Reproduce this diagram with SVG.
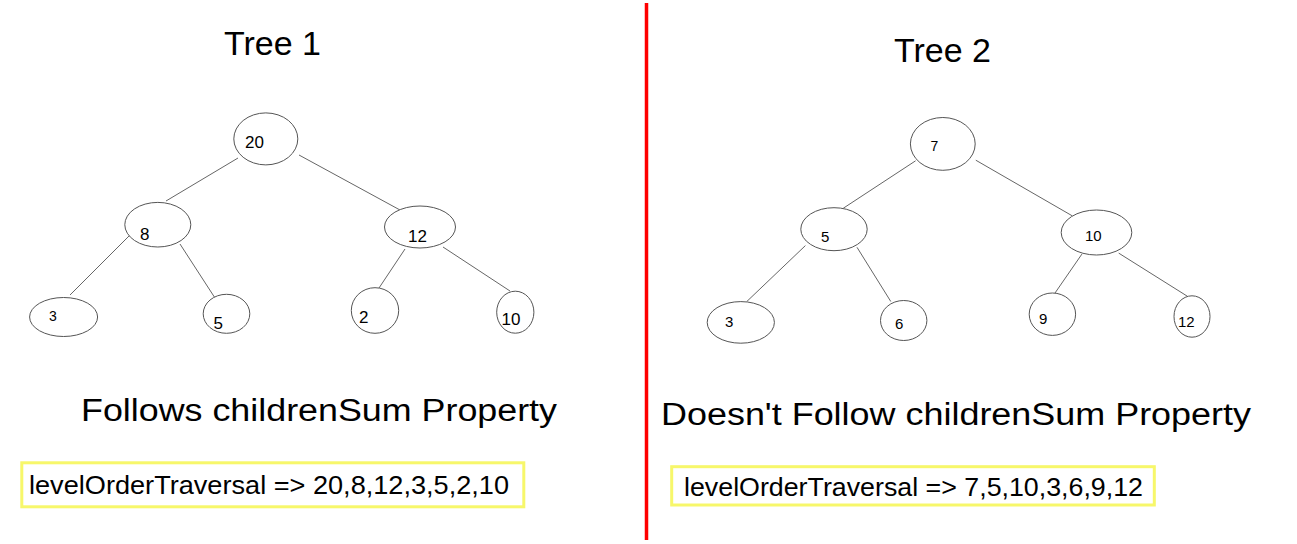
<svg xmlns="http://www.w3.org/2000/svg" width="1297" height="544" viewBox="0 0 1297 544">
<style>
.n{fill:#fff;stroke:#555;stroke-width:1}
.t{font-family:"Liberation Sans",Arial,sans-serif;fill:#000}
.e line{stroke:#666;stroke-width:1}
.box{fill:#fff;stroke:#f7f76a;stroke-width:3}
</style>
<rect width="1297" height="544" fill="#fff"/>
<line x1="646.5" y1="3" x2="646.5" y2="540" stroke="#ff0000" stroke-width="3.5"/>
<text class="t" x="224" y="55" font-size="34">Tree 1</text>
<text class="t" x="894" y="62" font-size="34">Tree 2</text>
<g class="e" id="edges1">
<line x1="238" y1="158" x2="166" y2="201"/>
<line x1="299" y1="155" x2="400" y2="210"/>
<line x1="130" y1="235" x2="70" y2="295"/>
<line x1="180" y1="244" x2="215" y2="298"/>
<line x1="405" y1="249" x2="379" y2="288"/>
<line x1="443" y1="247" x2="510" y2="291"/>
</g>
<g class="e" id="edges2">
<line x1="915.6" y1="160.8" x2="843.2" y2="208.3"/>
<line x1="975.8" y1="160.2" x2="1072.2" y2="215.8"/>
<line x1="805.4" y1="245.6" x2="746.8" y2="301.5"/>
<line x1="857" y1="247.3" x2="890.8" y2="301.5"/>
<line x1="1081.9" y1="254.1" x2="1055" y2="293"/>
<line x1="1118.7" y1="253.1" x2="1187.6" y2="296.4"/>
</g>
<g id="t1n20"><ellipse class="n" cx="265.8" cy="138.9" rx="32" ry="26"/><text class="t" x="245" y="148" font-size="17">20</text></g>
<g id="t1n8"><ellipse class="n" cx="157.8" cy="224.7" rx="33" ry="22.3"/><text class="t" x="140" y="240" font-size="17">8</text></g>
<g id="t1n12"><ellipse class="n" cx="420" cy="227" rx="35.5" ry="21"/><text class="t" x="408" y="241.5" font-size="17">12</text></g>
<g id="t1n3"><ellipse class="n" cx="63.6" cy="317" rx="34" ry="19.5"/><text class="t" x="49" y="321" font-size="14">3</text></g>
<g id="t1n5"><ellipse class="n" cx="226.5" cy="313.8" rx="23.3" ry="19.5"/><text class="t" x="213.5" y="329" font-size="17">5</text></g>
<g id="t1n2"><ellipse class="n" cx="375" cy="310.5" rx="23.7" ry="22.8"/><text class="t" x="359" y="323" font-size="17">2</text></g>
<g id="t1n10"><ellipse class="n" cx="515.3" cy="312.2" rx="18.6" ry="21"/><text class="t" x="501.5" y="324.5" font-size="17">10</text></g>
<g id="t2n7"><ellipse class="n" cx="942.8" cy="143.9" rx="32.4" ry="26.4"/><text class="t" x="930.5" y="150.7" font-size="14">7</text></g>
<g id="t2n5"><ellipse class="n" cx="834" cy="229.2" rx="33.2" ry="21.5"/><text class="t" x="821" y="242.2" font-size="15">5</text></g>
<g id="t2n10"><ellipse class="n" cx="1096.5" cy="232.5" rx="35.3" ry="22.5"/><text class="t" x="1085" y="240.5" font-size="15">10</text></g>
<g id="t2n3"><ellipse class="n" cx="740.8" cy="322.4" rx="33.6" ry="20.8"/><text class="t" x="725" y="327" font-size="15">3</text></g>
<g id="t2n6"><ellipse class="n" cx="903.7" cy="320.5" rx="23.2" ry="20"/><text class="t" x="895" y="328.6" font-size="15">6</text></g>
<g id="t2n9"><ellipse class="n" cx="1052.4" cy="314.2" rx="23.2" ry="21.2"/><text class="t" x="1039" y="323.6" font-size="15">9</text></g>
<g id="t2n12"><ellipse class="n" cx="1192" cy="316.5" rx="18" ry="20.7"/><text class="t" x="1178" y="327" font-size="15">12</text></g>
<text class="t" x="81" y="421" font-size="31" textLength="476" lengthAdjust="spacingAndGlyphs">Follows childrenSum Property</text>
<text class="t" x="661" y="425" font-size="31" textLength="590" lengthAdjust="spacingAndGlyphs">Doesn't Follow childrenSum Property</text>
<rect class="box" x="21.8" y="462.8" width="502" height="44"/>
<text class="t" x="29" y="494" font-size="26" textLength="480" lengthAdjust="spacingAndGlyphs">levelOrderTraversal =&gt; 20,8,12,3,5,2,10</text>
<rect class="box" x="671.7" y="466.7" width="482.6" height="38.3"/>
<text class="t" x="684" y="496" font-size="26" textLength="459" lengthAdjust="spacingAndGlyphs">levelOrderTraversal =&gt; 7,5,10,3,6,9,12</text>
</svg>
